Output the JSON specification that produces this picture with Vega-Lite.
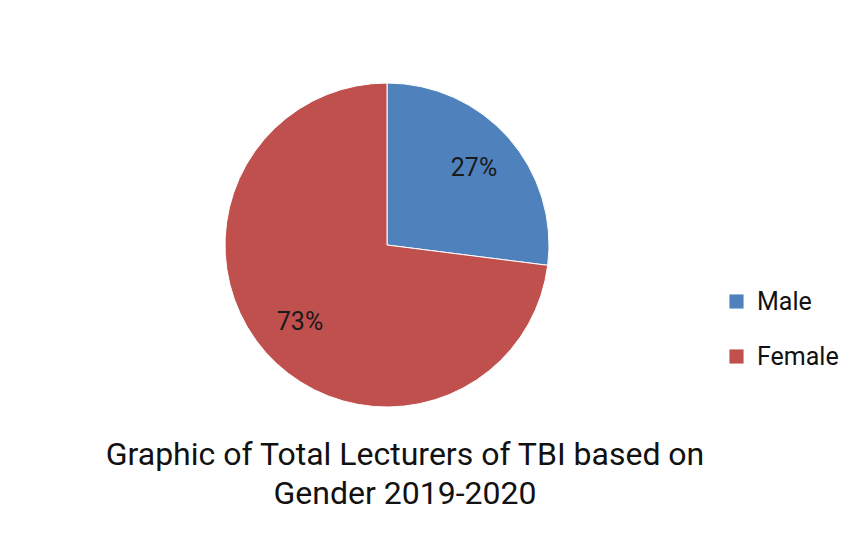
{
  "$schema": "https://vega.github.io/schema/vega-lite/v6.json",
  "width": 774,
  "height": 490,
  "padding": {"left": 0, "top": 0, "right": 0, "bottom": 40},
  "autosize": {"type": "pad"},
  "background": "white",
  "config": {"view": {"stroke": null}, "font": "Roboto"},
  "title": {
    "text": ["Graphic of Total Lecturers of TBI based on", "Gender 2019-2020"],
    "orient": "bottom",
    "anchor": "middle",
    "offset": -50,
    "dx": 18,
    "fontSize": 32,
    "fontWeight": "normal",
    "font": "Roboto",
    "color": "#111111",
    "lineHeight": 39
  },
  "data": {
    "values": [
      {"Gender": "Male", "Share": 0.27},
      {"Gender": "Female", "Share": 0.73}
    ]
  },
  "encoding": {
    "theta": {"field": "Share", "type": "quantitative", "stack": true},
    "order": {"field": "Gender", "sort": "descending"}
  },
  "layer": [
    {
      "mark": {"type": "arc", "outerRadius": 162, "stroke": "white", "strokeWidth": 1},
      "encoding": {
        "color": {
          "field": "Gender",
          "type": "nominal",
          "scale": {"domain": ["Male", "Female"], "range": ["#4F81BD", "#C0504D"]},
          "legend": {
            "title": null,
            "orient": "none",
            "legendX": 724,
            "legendY": 289,
            "symbolType": "square",
            "symbolSize": 200,
            "symbolStrokeWidth": 0,
            "labelFontSize": 25,
            "labelFont": "Roboto",
            "labelColor": "#111111",
            "rowPadding": 29,
            "labelOffset": 8
          }
        }
      }
    },
    {
      "mark": {"type": "text", "radius": 116, "fontSize": 25, "font": "Roboto", "color": "#1a1a1a"},
      "encoding": {
        "text": {"field": "Share", "type": "quantitative", "format": ".0%"},
        "detail": {"field": "Gender"}
      }
    }
  ]
}
